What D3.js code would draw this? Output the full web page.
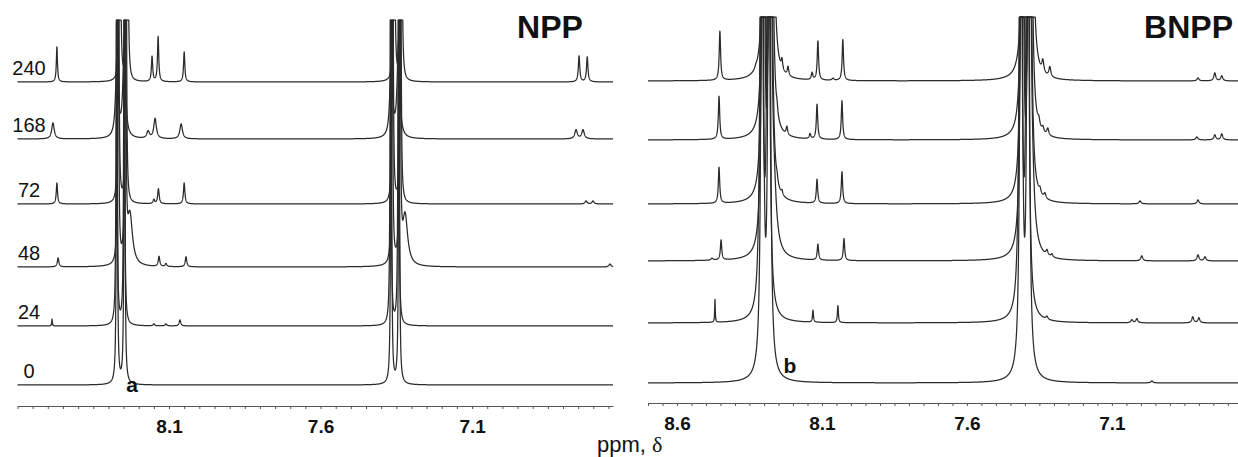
<!DOCTYPE html>
<html>
<head>
<meta charset="utf-8">
<script src="https://cdn.jsdelivr.net/npm/d3@7"></script>
<style>
  body { margin: 0; background: #fff; }
  svg { display: block; }
  text { font-family: "Liberation Sans", Arial, Helvetica, sans-serif; }
</style>
</head>
<body>
<svg id="chart" width="1238" height="457"></svg>
<script>
// Reaction times (h), bottom trace first
const times = ["0", "24", "48", "72", "168", "240"];

// Labelled axis ticks (ppm)
const nppTickLabels = [8.1, 7.6, 7.1];
const bnppTickLabels = [8.6, 8.1, 7.6, 7.1];

// Peak lists: [chemical shift (ppm), height (a.u.), half-width (ppm)]
const npp0 = [
  [8.272, 500, 0.0016], [8.247, 500, 0.0016],
  [7.367, 500, 0.0016], [7.341, 500, 0.0016]
];
const npp24 = [
  [8.486, 7, 0.0012],
  [8.273, 500, 0.0016], [8.248, 500, 0.0016],
  [8.150, 2, 0.003], [8.110, 2, 0.003], [8.064, 6, 0.003],
  [7.369, 500, 0.0016], [7.343, 500, 0.0016]
];
const npp48 = [
  [8.466, 9, 0.003],
  [8.268, 500, 0.0016], [8.244, 500, 0.0016], [8.229, 50, 0.01],
  [8.133, 10, 0.003], [8.110, 3, 0.003], [8.044, 10, 0.003],
  [7.364, 500, 0.0016], [7.338, 500, 0.0016], [7.321, 50, 0.01],
  [6.645, 3, 0.004]
];
const npp72 = [
  [8.470, 21, 0.0025],
  [8.267, 500, 0.0016], [8.242, 500, 0.0016],
  [8.150, 4, 0.003], [8.135, 15, 0.003], [8.050, 21, 0.0028],
  [7.362, 500, 0.0016], [7.336, 500, 0.0016],
  [6.724, 3, 0.004], [6.701, 3, 0.004]
];
const npp168 = [
  [8.483, 16, 0.005],
  [8.272, 80, 0.005], [8.248, 95, 0.005],
  [8.169, 7, 0.005], [8.146, 20, 0.005], [8.060, 15, 0.005],
  [7.367, 80, 0.005], [7.343, 95, 0.005],
  [6.757, 9, 0.005], [6.734, 9, 0.005]
];
const npp240 = [
  [8.470, 35, 0.0022],
  [8.262, 500, 0.0016], [8.237, 500, 0.0016],
  [8.156, 25, 0.0025], [8.136, 45, 0.0025], [8.050, 30, 0.0025],
  [7.357, 500, 0.0016], [7.333, 500, 0.0016],
  [6.747, 26, 0.0028], [6.720, 25, 0.0028]
];

const bnpp0 = [
  [8.306, 800, 0.0038], [8.282, 800, 0.0038],
  [7.413, 800, 0.0038], [7.389, 800, 0.0038],
  [6.962, 2, 0.004]
];
const bnpp24 = [
  [8.469, 23, 0.0012],
  [8.309, 800, 0.0038], [8.285, 800, 0.0038],
  [8.131, 12, 0.002], [8.045, 17, 0.002],
  [7.415, 800, 0.0038], [7.391, 800, 0.0038],
  [7.324, 3, 0.004], [7.031, 3, 0.004], [7.014, 4, 0.004],
  [6.821, 6, 0.004], [6.800, 5, 0.004]
];
const bnpp48 = [
  [8.479, 2, 0.004], [8.448, 20, 0.0028],
  [8.303, 800, 0.0038], [8.279, 800, 0.0038], [8.266, 50, 0.01],
  [8.114, 16, 0.0028], [8.024, 22, 0.0028],
  [7.410, 800, 0.0038], [7.385, 800, 0.0038], [7.376, 50, 0.01],
  [7.324, 5, 0.004], [7.307, 3, 0.004], [6.997, 5, 0.004],
  [6.803, 6, 0.004], [6.779, 4, 0.004]
];
const bnpp72 = [
  [8.455, 36, 0.0028],
  [8.302, 800, 0.0038], [8.277, 800, 0.0038],
  [8.255, 5, 0.003], [8.238, 4, 0.003],
  [8.117, 24, 0.0028], [8.031, 32, 0.0028],
  [7.409, 800, 0.0038], [7.383, 800, 0.0038],
  [7.348, 5, 0.004], [7.331, 5, 0.004], [7.003, 3, 0.004], [6.803, 4, 0.004]
];
const bnpp168 = [
  [8.455, 43, 0.0028],
  [8.300, 800, 0.0038], [8.275, 800, 0.0038],
  [8.255, 7, 0.003], [8.221, 8, 0.003],
  [8.141, 5, 0.003], [8.117, 35, 0.0028], [8.031, 39, 0.0028],
  [7.407, 800, 0.0038], [7.381, 800, 0.0038],
  [7.352, 7, 0.004], [7.338, 5, 0.004], [7.321, 7, 0.004],
  [6.807, 3, 0.004], [6.745, 5, 0.004], [6.721, 6, 0.004]
];
const bnpp240 = [
  [8.452, 49, 0.0028], [8.328, 2, 0.004],
  [8.297, 800, 0.0038], [8.272, 800, 0.0038],
  [8.238, 10, 0.003], [8.217, 9, 0.003],
  [8.134, 7, 0.003], [8.114, 39, 0.0028], [8.062, 2, 0.004], [8.028, 41, 0.0028],
  [7.403, 800, 0.0038], [7.378, 800, 0.0038],
  [7.338, 12, 0.004], [7.314, 10, 0.004],
  [6.803, 3, 0.004], [6.745, 8, 0.004], [6.721, 5, 0.004]
];

const svg = d3.select("#chart");

const panels = [
  {
    title: "NPP", titleX: 550, titleAnchor: "middle",
    spectra: [npp0, npp24, npp48, npp72, npp168, npp240],
    domain: [8.6, 6.635], range: [17.5, 613],
    baselines: [385, 326, 267, 204, 139, 82],
    clipTop: 20, axisY: 406, tickLabels: nppTickLabels,
    showTimes: true, mark: "a", markX: 132, markY: 392
  },
  {
    title: "BNPP", titleX: 1233, titleAnchor: "end",
    spectra: [bnpp0, bnpp24, bnpp48, bnpp72, bnpp168, bnpp240],
    domain: [8.7, 6.665], range: [648, 1238],
    baselines: [383, 323, 261, 204, 140, 81],
    clipTop: 17, axisY: 403, tickLabels: bnppTickLabels,
    showTimes: false, mark: "b", markX: 790, markY: 373
  }
];

// Intensity (a.u.) to pixel height
const h = d3.scaleLinear().domain([0, 100]).range([0, 100]);

// Lorentzian line shape summed over a peak list
function intensity(peaks, ppm) {
  let s = 0;
  for (const [c, a, w] of peaks) {
    const d = ppm - c;
    s += a * w * w / (d * d + w * w);
  }
  return s;
}

panels.forEach(p => {
  const x = d3.scaleLinear().domain(p.domain).range(p.range);
  const n = Math.round((p.range[1] - p.range[0]) * 10);
  const grid = d3.range(n + 1).map(i => p.domain[0] + (p.domain[1] - p.domain[0]) * i / n);

  const g = svg.append("g");

  p.spectra.forEach((peaks, k) => {
    const base = p.baselines[k];
    const y = d3.scaleLinear().domain([0, 1]).range([base, base - h(1)]);
    const pts = grid.map(v => [v, intensity(peaks, v)]);
    const line = d3.line()
      .x(d => x(d[0]))
      .y(d => Math.max(p.clipTop, y(d[1])));
    g.append("path")
      .attr("d", line(pts))
      .attr("fill", "none")
      .attr("stroke", "#2b2b2b")
      .attr("stroke-width", 1.25)
      .attr("stroke-linejoin", "round");

    if (p.showTimes) {
      g.append("text")
        .attr("x", 29)
        .attr("y", base - 7)
        .attr("text-anchor", "middle")
        .attr("font-size", 20)
        .attr("fill", "#111")
        .text(times[k]);
    }
  });

  // Axis with 0.05 ppm ticks
  const nt = Math.round((p.domain[0] - p.domain[1]) / 0.05);
  const tickVals = d3.range(nt + 1).map(i => +(p.domain[0] - i * 0.05).toFixed(2));
  const axis = d3.axisBottom(x)
    .tickValues(tickVals)
    .tickSize(3)
    .tickSizeOuter(0)
    .tickPadding(11)
    .tickFormat(d => p.tickLabels.some(t => Math.abs(t - d) < 1e-6) ? d.toFixed(1) : "");
  const ag = svg.append("g")
    .attr("transform", `translate(0,${p.axisY})`)
    .call(axis);
  ag.select(".domain").attr("stroke", "#555");
  ag.selectAll(".tick line").attr("stroke", "#555");
  ag.selectAll(".tick text")
    .attr("font-family", "'Liberation Sans', Arial, sans-serif")
    .attr("font-size", 19)
    .attr("font-weight", "bold")
    .attr("fill", "#111");

  svg.append("text")
    .attr("x", p.titleX)
    .attr("y", 38)
    .attr("text-anchor", p.titleAnchor)
    .attr("font-size", 32)
    .attr("font-weight", "bold")
    .attr("fill", "#111")
    .text(p.title);

  svg.append("text")
    .attr("x", p.markX)
    .attr("y", p.markY)
    .attr("text-anchor", "middle")
    .attr("font-size", 21)
    .attr("font-weight", "bold")
    .attr("fill", "#111")
    .text(p.mark);
});

// Shared x-axis title
const xt = svg.append("text")
  .attr("x", 597)
  .attr("y", 452)
  .attr("font-size", 22)
  .attr("fill", "#111");
xt.append("tspan").text("ppm, ");
xt.append("tspan").attr("font-family", "'Liberation Serif', 'Times New Roman', serif").text("δ");
</script>
</body>
</html>
